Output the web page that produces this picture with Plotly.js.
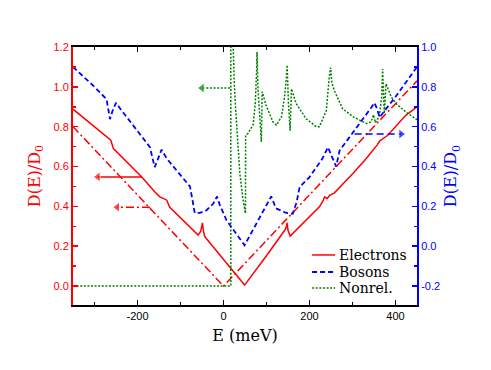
<!DOCTYPE html>
<html>
<head>
<meta charset="utf-8">
<script src="https://cdn.plot.ly/plotly-3.0.1.min.js"></script>
<style>html,body{margin:0;padding:0;background:#fff}</style>
</head>
<body>
<div id="dos_plot" style="width:491px;height:370px"></div>
<script>
// series names shown in the legend box
var names = ['Electrons', 'Bosons', 'Nonrel.'];

// tick labels (plain hyphen minus as in the figure)
var xTickVals = [-200, 0, 200, 400];
var xTickText = ['-200', '0', '200', '400'];
var y2TickVals = [-0.2, 0, 0.2, 0.4, 0.6, 0.8, 1.0];
var y2TickText = ['-0.2', '0.0', '0.2', '0.4', '0.6', '0.8', '1.0'];

// Electrons, D(E)/D0 on the left axis
var elecE = [-350, -300, -268, -262, -256, -190, -160, -148, -140, -132, -125, -59, -53, -50, -49, -47, -44, -40, 0, 49,
	100, 138, 144, 147, 148, 150, 153, 155, 223, 232, 235, 238, 241, 247, 258, 301, 332, 358, 363, 372, 382, 424, 450];
var elecD = [0.888, 0.80, 0.741, 0.732, 0.69, 0.548, 0.473, 0.448, 0.44, 0.431, 0.395, 0.256, 0.275, 0.30, 0.317, 0.28, 0.25, 0.239, 0.135, 0.005,
	0.152, 0.264, 0.285, 0.305, 0.317, 0.28, 0.255, 0.251, 0.398, 0.43, 0.448, 0.445, 0.44, 0.455, 0.468, 0.565, 0.64, 0.71, 0.728, 0.742, 0.757, 0.857, 0.90];

// Electrons, second curve (dash-dot), left axis
var elec2E = [-350, 0, 450];
var elec2D = [0.80, 0.0, 1.03];

// Bosons, right axis
var bosE = [-350, -300, -272, -268, -264, -258, -250, -240, -225, -200, -171, -166, -160, -152, -144, -132, -100, -78, -72, -67, -55, -40, -24, -15, -9, 7, 49,
	111, 122, 146, 161, 170, 177, 200, 230, 243, 252, 262, 270, 305, 345, 351, 357, 363, 400, 450];
var bosD = [0.90, 0.80, 0.738, 0.69, 0.638, 0.68, 0.72, 0.69, 0.647, 0.58, 0.497, 0.45, 0.397, 0.44, 0.485, 0.44, 0.36, 0.30, 0.23, 0.167, 0.167, 0.18, 0.213, 0.25, 0.21, 0.13, 0.005,
	0.25, 0.19, 0.167, 0.163, 0.22, 0.297, 0.347, 0.44, 0.497, 0.45, 0.40, 0.48, 0.58, 0.70, 0.72, 0.69, 0.647, 0.75, 0.90];

// Nonrelativistic, left axis
var nrE = [-350, 17, 17, 22, 25, 28, 33, 38, 45, 51, 51.5, 57, 69, 74, 77, 78, 80, 84, 88, 90, 99, 115, 123, 135, 142, 146, 148, 151, 155, 158,
	169, 192, 216, 223, 239, 246, 249, 252, 258, 277, 301, 332, 343, 349, 353, 362, 368, 370, 372, 374, 378, 390, 401, 424, 450];
var nrD = [0, 0, 1.6, 1.19, 1.02, 0.90, 0.70, 0.565, 0.44, 0.365, 0.757, 0.766, 0.81, 0.92, 1.08, 1.175, 1.0, 0.85, 0.724, 0.975, 0.908, 0.824, 0.808, 0.85, 0.95, 1.04, 1.11, 0.92, 0.78, 0.99,
	0.916, 0.84, 0.80, 0.80, 0.88, 1.05, 1.097, 1.02, 0.98, 0.89, 0.85, 0.816, 0.824, 0.86, 0.82, 0.85, 0.95, 1.09, 0.95, 0.866, 1.015, 0.95, 0.916, 0.874, 0.835];

// arrows telling which axis a curve belongs to: tail E, head E, level, y axis
var arrowTail = [-190, -171, 15, 305];
var arrowHead = [-292, -247, -50, 413];
var arrowLevel = [0.548, 0.396, 0.994, 0.563];
var arrowAxis = ['y', 'y', 'y', 'y2'];

var serif = 'DejaVu Serif, serif';
var sans = 'Liberation Sans, Arial, sans-serif';

var colors = ['red', 'blue', 'green'];
var dashes = ['solid', '5px,3px', '2px,1.6px'];
var dashdot = '8px,3px,2px,3px';

var data = [
	{x: elecE, y: elecD, mode: 'lines', name: names[0], line: {color: colors[0], width: 1.5}},
	{x: elec2E, y: elec2D, mode: 'lines', line: {color: colors[0], width: 1.5, dash: dashdot}},
	{x: bosE, y: bosD, yaxis: 'y2', mode: 'lines', name: names[1], line: {color: colors[1], width: 1.8, dash: dashes[1]}},
	{x: nrE, y: nrD, mode: 'lines', name: names[2], line: {color: colors[2], width: 1.5, dash: dashes[2]}}
];

var arrowColor = ['red', 'red', 'green', 'blue'];
var arrowDash = ['solid', dashdot, dashes[2], '7px,4px'];
for (var k = 0; k < arrowTail.length; k++) {
	data.push({
		x: [arrowTail[k], arrowHead[k]], y: [arrowLevel[k], arrowLevel[k]], yaxis: arrowAxis[k],
		mode: 'lines+markers', cliponaxis: false,
		line: {color: arrowColor[k], width: 1.5, dash: arrowDash[k]},
		marker: {color: arrowColor[k], size: [0, 9],
			symbol: arrowHead[k] < arrowTail[k] ? 'triangle-left' : 'triangle-right'}
	});
}

// legend box drawn by hand so the rows sit as tight as in the figure
var shapes = [];
var annotations = [];
var legY = [0.194, 0.128, 0.066];
for (var i = 0; i < names.length; i++) {
	shapes.push({type: 'line', xref: 'paper', yref: 'paper', x0: 0.695, x1: 0.762, y0: legY[i], y1: legY[i],
		line: {color: colors[i], width: i == 1 ? 1.8 : 1.5, dash: dashes[i]}});
	annotations.push({xref: 'paper', yref: 'paper', x: 0.768, y: legY[i], xanchor: 'left', yanchor: 'middle',
		showarrow: false, text: names[i], font: {family: serif, size: 14, color: 'black'}});
}

var layout = {
	width: 491,
	height: 370,
	margin: {l: 73, r: 74, t: 47, b: 65},
	paper_bgcolor: 'white',
	plot_bgcolor: 'white',
	showlegend: false,
	xaxis: {
		range: [-350, 450], tickmode: 'array', tickvals: xTickVals, ticktext: xTickText,
		ticks: 'inside', ticklen: 5, tickwidth: 1.5, tickcolor: 'black',
		minor: {tickmode: 'linear', tick0: 0, dtick: 100, ticks: 'inside', ticklen: 3, tickcolor: 'black', tickwidth: 1.5},
		showline: true, linecolor: 'black', linewidth: 2, mirror: 'ticks',
		showgrid: false, zeroline: false,
		tickfont: {family: sans, size: 11, color: 'black'},
		title: {text: 'E (meV)', font: {family: serif, size: 16, color: 'black'}, standoff: 9}
	},
	yaxis: {
		range: [-0.095, 1.2], tick0: 0, dtick: 0.2, tickformat: '.1f',
		ticks: 'inside', ticklen: 5, tickwidth: 1.5, tickcolor: 'red',
		minor: {dtick: 0.1, ticks: 'inside', ticklen: 3, tickcolor: 'red', tickwidth: 1.5},
		showline: true, linecolor: 'red', linewidth: 2,
		showgrid: false, zeroline: false,
		tickfont: {family: sans, size: 11, color: 'red'},
		title: {text: 'D(E)/D<sub>0</sub>', font: {family: serif, size: 16, color: 'red'}, standoff: 9}
	},
	yaxis2: {
		overlaying: 'y', side: 'right',
		range: [-0.295, 1.0], tickmode: 'array', tickvals: y2TickVals, ticktext: y2TickText,
		ticks: 'inside', ticklen: 5, tickwidth: 1.5, tickcolor: 'blue',
		minor: {tickmode: 'linear', tick0: 0, dtick: 0.1, ticks: 'inside', ticklen: 3, tickcolor: 'blue', tickwidth: 1.5},
		showline: true, linecolor: 'blue', linewidth: 2,
		showgrid: false, zeroline: false,
		tickfont: {family: sans, size: 11, color: 'blue'},
		title: {text: 'D(E)/D<sub>0</sub>', font: {family: serif, size: 16, color: 'blue'}, standoff: 6}
	},
	shapes: shapes,
	annotations: annotations
};

Plotly.newPlot('dos_plot', data, layout, {staticPlot: true});
</script>
</body>
</html>
